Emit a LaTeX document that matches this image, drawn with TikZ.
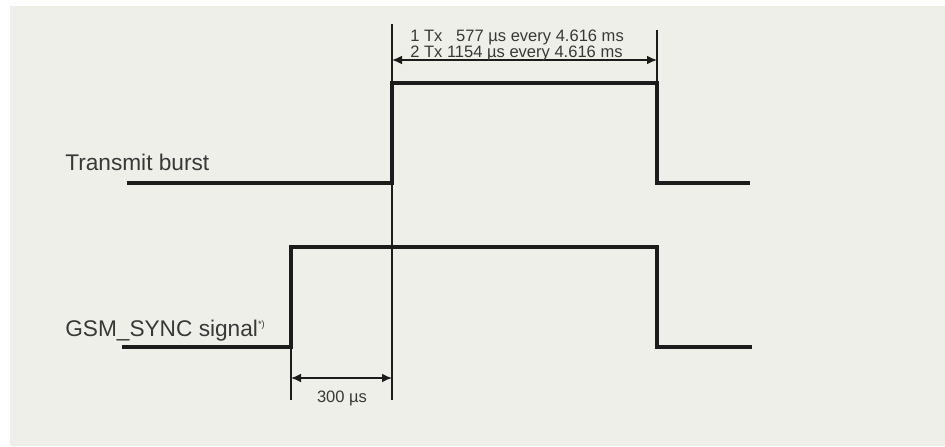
\documentclass[tikz,border=0pt]{standalone}
\usepackage{fontspec}
\setmainfont{Liberation Sans}
\usetikzlibrary{arrows.meta, positioning, calc}
\tikzset{>=Latex}
\definecolor{bggray}{HTML}{EFEFEA}
\definecolor{inkgray}{HTML}{1C1C1C}
\definecolor{txtgray}{HTML}{383838}

\begin{document}
\begin{tikzpicture}[x=0.75pt,y=-0.75pt]

   %%%%%%%%%%%%%%%%%%%%%%%%%%%%%%%%%%%%%%%%%%%%%%%%%%%%%%%%%%%%%%%%%%%%%%
   % Parameter (Pixelraster, y nach unten)
   %%%%%%%%%%%%%%%%%%%%%%%%%%%%%%%%%%%%%%%%%%%%%%%%%%%%%%%%%%%%%%%%%%%%%%
   \def\txlow{183}
   \def\txhigh{83}
   \def\synclow{347}
   \def\synchigh{247}
   \def\xon{392}
   \def\xoff{657}
   \def\xsync{291}
   \def\ybottom{400}

   % Stile
   \tikzset{
      signal/.style={line width=3pt, inkgray, line join=miter},
      guide/.style={line width=0.9pt, inkgray},
      dimarrow/.style={line width=0.9pt, inkgray, {Latex[length=7.5pt,width=6.5pt]}-{Latex[length=7.5pt,width=6.5pt]}},
      label/.style={inner sep=0pt, text=txtgray, font=\fontsize{17}{20}\selectfont, anchor=base west},
      dimtext/.style={inner sep=0pt, text=txtgray, font=\fontsize{12.4}{14}\selectfont}
   }

   %%%%%%%%%%%%%%%%%%%%%%%%%%%%%%%%%%%%%%%%%%%%%%%%%%%%%%%%%%%%%%%%%%%%%%
   % Hintergrund
   %%%%%%%%%%%%%%%%%%%%%%%%%%%%%%%%%%%%%%%%%%%%%%%%%%%%%%%%%%%%%%%%%%%%%%
   \fill[white] (0,0) rectangle (945,446);
   \fill[bggray] (10,6) rectangle (945,446);
   \useasboundingbox (0,0) rectangle (945,446);

   %%%%%%%%%%%%%%%%%%%%%%%%%%%%%%%%%%%%%%%%%%%%%%%%%%%%%%%%%%%%%%%%%%%%%%
   % Hilfslinien
   %%%%%%%%%%%%%%%%%%%%%%%%%%%%%%%%%%%%%%%%%%%%%%%%%%%%%%%%%%%%%%%%%%%%%%
   \coordinate (OnTop)    at (\xon,24);
   \coordinate (OnBot)    at (\xon,\ybottom);
   \coordinate (OffTop)   at (\xoff,30);
   \coordinate (OffBot)   at (\xoff,\txhigh);
   \coordinate (SyncTop)  at (\xsync,\synclow);
   \coordinate (SyncBot)  at (\xsync,\ybottom);

   \draw[guide] (OnTop) -- (OnBot);
   \draw[guide] (OffTop) -- (OffBot);
   \draw[guide] (SyncTop) -- (SyncBot);

   %%%%%%%%%%%%%%%%%%%%%%%%%%%%%%%%%%%%%%%%%%%%%%%%%%%%%%%%%%%%%%%%%%%%%%
   % Transmit burst
   %%%%%%%%%%%%%%%%%%%%%%%%%%%%%%%%%%%%%%%%%%%%%%%%%%%%%%%%%%%%%%%%%%%%%%
   \draw[signal] (127,\txlow) -- (\xon,\txlow) -- (\xon,\txhigh)
      -- (\xoff,\txhigh) -- (\xoff,\txlow) -- (750,\txlow);
   \node[label] (txlabel) at (65,170) {Transmit burst};

   %%%%%%%%%%%%%%%%%%%%%%%%%%%%%%%%%%%%%%%%%%%%%%%%%%%%%%%%%%%%%%%%%%%%%%
   % GSM_SYNC
   %%%%%%%%%%%%%%%%%%%%%%%%%%%%%%%%%%%%%%%%%%%%%%%%%%%%%%%%%%%%%%%%%%%%%%
   \draw[signal] (122,\synclow) -- (\xsync,\synclow) -- (\xsync,\synchigh)
      -- (\xoff,\synchigh) -- (\xoff,\synclow) -- (752,\synclow);
   \node[label] (synclabel) at (65,336) {GSM\_SYNC signal\textsuperscript{\scriptsize*)}};

   %%%%%%%%%%%%%%%%%%%%%%%%%%%%%%%%%%%%%%%%%%%%%%%%%%%%%%%%%%%%%%%%%%%%%%
   % Bemassung oben
   %%%%%%%%%%%%%%%%%%%%%%%%%%%%%%%%%%%%%%%%%%%%%%%%%%%%%%%%%%%%%%%%%%%%%%
   \draw[dimarrow] ($(OnTop)+(0,36)$) -- ($(OffTop)+(0,30)$);
   \node[dimtext, anchor=base west] (burstone) at (410,41.5) {1 Tx \phantom{1}577 µs every 4.616 ms};
   \node[dimtext, anchor=base west] (bursttwo) at (410,57) {2 Tx 1154 µs every 4.616 ms};

   %%%%%%%%%%%%%%%%%%%%%%%%%%%%%%%%%%%%%%%%%%%%%%%%%%%%%%%%%%%%%%%%%%%%%%
   % Bemassung unten: 300 us
   %%%%%%%%%%%%%%%%%%%%%%%%%%%%%%%%%%%%%%%%%%%%%%%%%%%%%%%%%%%%%%%%%%%%%%
   \draw[dimarrow] ($(SyncTop)+(0,31)$) -- ($(OnBot)+(0,-22)$);
   \node[dimtext, anchor=base] (delay) at (342,402) {300 µs};

\end{tikzpicture}
\end{document}
